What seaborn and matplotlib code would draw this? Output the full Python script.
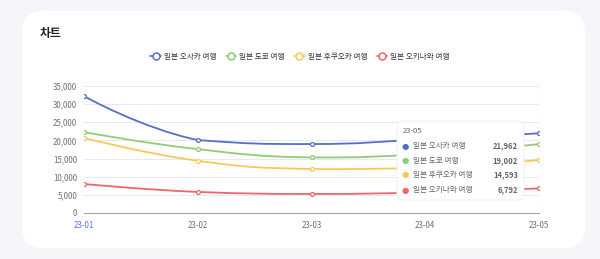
import matplotlib as mpl

mpl.use('Agg')
import pandas as pd
import matplotlib.pyplot as plt
import seaborn as sns
from matplotlib.path import Path
from matplotlib.patches import PathPatch, FancyBboxPatch
from matplotlib.lines import Line2D
from matplotlib.ticker import FuncFormatter

months = ['23-01', '23-02', '23-03', '23-04', '23-05']
osaka = [32200, 20100, 19000, 20300, 21962]
tokyo = [22300, 17600, 15300, 16300, 19002]
fukuoka = [20700, 14400, 12100, 12500, 14593]
okinawa = [8000, 5800, 5250, 5700, 6792]
names = ['일본 오사카 여행', '일본 도쿄 여행', '일본 후쿠오카 여행', '일본 오키나와 여행']
colors = ['#5470c6', '#91cc75', '#fac858', '#ee6666']
yticks = [0, 5000, 10000, 15000, 20000, 25000, 30000, 35000]

series = [osaka, tokyo, fukuoka, okinawa]
df = pd.DataFrame({
    'month': months * 4,
    'idx': list(range(len(months))) * 4,
    'value': osaka + tokyo + fukuoka + okinawa,
    'series': [n for n in names for _ in months],
})

sns.set_style('white')
plt.rcParams['font.family'] = ['Noto Sans CJK KR', 'DejaVu Sans']

fig = plt.figure(figsize=(6, 2.59), dpi=100)
fig.patch.set_facecolor('#f4f6f9')

# white card
card = FancyBboxPatch((22 / 600, 11 / 259), 563 / 600, 237 / 259,
                      boxstyle='round,pad=0,rounding_size=0.035',
                      transform=fig.transFigure, facecolor='white',
                      edgecolor='none', mutation_aspect=600 / 259, zorder=-5)
fig.patches.append(card)
fig.text(40 / 600, 1 - 33 / 259, '차트', fontsize=8.5, fontweight='bold',
         color='#222222', va='center')

ax = fig.add_axes([84 / 600, 1 - 213 / 259, 455 / 600, 127 / 259])
ax.set_facecolor('none')
ax.set_zorder(1)


def clamp(v, a, b):
    return max(min(a, b), min(max(a, b), v))


def smooth_path(xs, ys, s=0.5):
    # echarts-like bezier, control points kept inside each segment
    pts = list(zip(xs, ys))
    verts = [pts[0]]
    codes = [Path.MOVETO]
    n = len(pts)
    for i in range(n - 1):
        p1 = pts[i]
        p2 = pts[i + 1]
        if i > 0:
            p0 = pts[i - 1]
            c1 = (p1[0] + s * (p2[0] - p0[0]) / 2, p1[1] + s * (p2[1] - p0[1]) / 2)
        else:
            c1 = p1
        if i + 2 < n:
            p3 = pts[i + 2]
            c2 = (p2[0] - s * (p3[0] - p1[0]) / 2, p2[1] - s * (p3[1] - p1[1]) / 2)
        else:
            c2 = p2
        c1 = (c1[0], clamp(c1[1], p1[1], p2[1]))
        c2 = (c2[0], clamp(c2[1], p1[1], p2[1]))
        verts += [c1, c2, p2]
        codes += [Path.CURVE4] * 3
    return Path(verts, codes)


for name, vals, c in zip(names, series, colors):
    sub = df[df['series'] == name]
    ax.add_patch(PathPatch(smooth_path(list(sub['idx']), list(sub['value'])),
                           facecolor='none', edgecolor=c, lw=1.3, zorder=3))
    sns.lineplot(data=sub, x='idx', y='value', ax=ax, color=c, linewidth=0,
                 marker='o', markersize=2.8, markerfacecolor='white',
                 markeredgecolor=c, markeredgewidth=0.9, zorder=4)

ax.set_xlim(0, len(months) - 1)
ax.set_ylim(0, 35000)
ax.set_yticks(yticks)
ax.yaxis.set_major_formatter(FuncFormatter(lambda v, p: f'{int(v):,}'))
ax.set_xticks(range(len(months)))
ax.set_xticklabels(months)
ax.set(xlabel='', ylabel='')
ax.grid(axis='y', color='#e6e9f2', lw=0.7)
ax.grid(axis='x', visible=False)
for side in ['top', 'right', 'left']:
    ax.spines[side].set_visible(False)
ax.spines['bottom'].set_color('#a8abb2')
ax.spines['bottom'].set_linewidth(0.9)
ax.tick_params(axis='y', length=0, labelsize=5.7, labelcolor='#6e7079', pad=5)
ax.tick_params(axis='x', length=3, width=0.8, color='#a8abb2', labelsize=5.7,
               labelcolor='#6e7079', pad=3)
ax.get_xticklabels()[0].set_color('#5470ff')
if ax.get_legend():
    ax.get_legend().remove()

# axis pointer at last month
ax.axvline(len(months) - 1, color='#c4c4c4', lw=0.8, ls=(0, (2, 2)), zorder=2)

# legend
handles = [Line2D([0], [0], color=c, lw=1.2, marker='o', markersize=5,
                  markerfacecolor='white', markeredgecolor=c, markeredgewidth=1.1)
           for c in colors]
fig.legend(handles, names, loc='center', bbox_to_anchor=(0.5, 1 - 57 / 259),
           ncol=4, frameon=False, fontsize=5.5, handlelength=1.4,
           handletextpad=0.4, columnspacing=1.2, labelcolor='#333333')

# tooltip
tip = FancyBboxPatch((397 / 600, 1 - 200 / 259), 127 / 600, 79 / 259,
                     boxstyle='round,pad=0,rounding_size=0.01',
                     transform=fig.transFigure, facecolor='white',
                     edgecolor='#eeeeee', lw=0.6, zorder=10,
                     mutation_aspect=600 / 259)
fig.patches.append(tip)
fig.text(403 / 600, 1 - 131 / 259, months[-1], fontsize=5.5, color='#666666',
         va='center', zorder=11)
rows_y = [146, 161, 175, 190]
for name, vals, c, ry in zip(names, series, colors, rows_y):
    fig.text(405 / 600, 1 - ry / 259, '●', fontsize=6, color=c, va='center',
             ha='center', zorder=11, family=['DejaVu Sans'])
    fig.text(413 / 600, 1 - ry / 259, name, fontsize=5.5, color='#666666',
             va='center', zorder=11)
    fig.text(518 / 600, 1 - ry / 259, f'{vals[-1]:,}', fontsize=5.5,
             color='#666666', fontweight='bold', va='center', ha='right',
             zorder=11)

plt.savefig('out.png', dpi=100)
